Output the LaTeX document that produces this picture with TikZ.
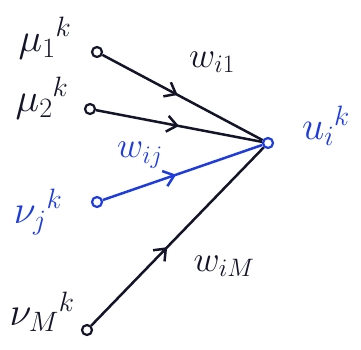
\documentclass[tikz,border=0pt]{standalone}
\usepackage{fix-cm}
\usetikzlibrary{decorations.markings,arrows.meta}
\definecolor{pen}{RGB}{20,20,40}
\definecolor{bpen}{RGB}{30,60,220}
\tikzset{
  x=1pt,y=-1pt,
  port/.style={circle,draw,line width=2.2pt,inner sep=0pt,minimum size=10pt},
  wire/.style={line width=2.5pt,postaction={decorate},decoration={markings,mark=at position #1 with {\arrow{Straight Barb[length=10pt,width=16pt,line width=2.5pt]}}}},
  lab/.style={font=\fontsize{40}{42}\selectfont,inner sep=1pt},
  wlab/.style={font=\fontsize{36}{38}\selectfont,inner sep=1pt}
}
\begin{document}
\begin{tikzpicture}
\useasboundingbox (0,0) rectangle (361,349);
\node[port,draw=pen] (m1) at (97,52) {};
\node[port,draw=pen] (m2) at (90,109) {};
\node[port,draw=bpen] (nj) at (97,202) {};
\node[port,draw=pen] (nM) at (87,330) {};
\node[port,draw=bpen] (ui) at (268,143) {};
\node[lab,pen] (lm1) at (45,38) {$\mu_1{}^k$};
\node[lab,pen] (lm2) at (42,98) {$\mu_2{}^k$};
\node[lab,bpen] (lnj) at (38,212) {$\nu_j{}^k$};
\node[lab,pen] (lnM) at (42,312) {$\nu_M{}^k$};
\node[lab,bpen] (lui) at (326,126) {$u_i{}^k$};
\node[wlab,pen] (w1) at (212,62) {$w_{i1}$};
\node[wlab,bpen] (wj) at (140,155) {$w_{ij}$};
\node[wlab,pen] (wM) at (224,266) {$w_{iM}$};
\draw[wire=0.47,pen] (m1) -- (ui);
\draw[wire=0.5,pen] (m2) -- (ui);
\draw[wire=0.46,bpen] (nj) -- (ui);
\draw[wire=0.44,pen] (nM) -- (ui);
\end{tikzpicture}
\end{document}
